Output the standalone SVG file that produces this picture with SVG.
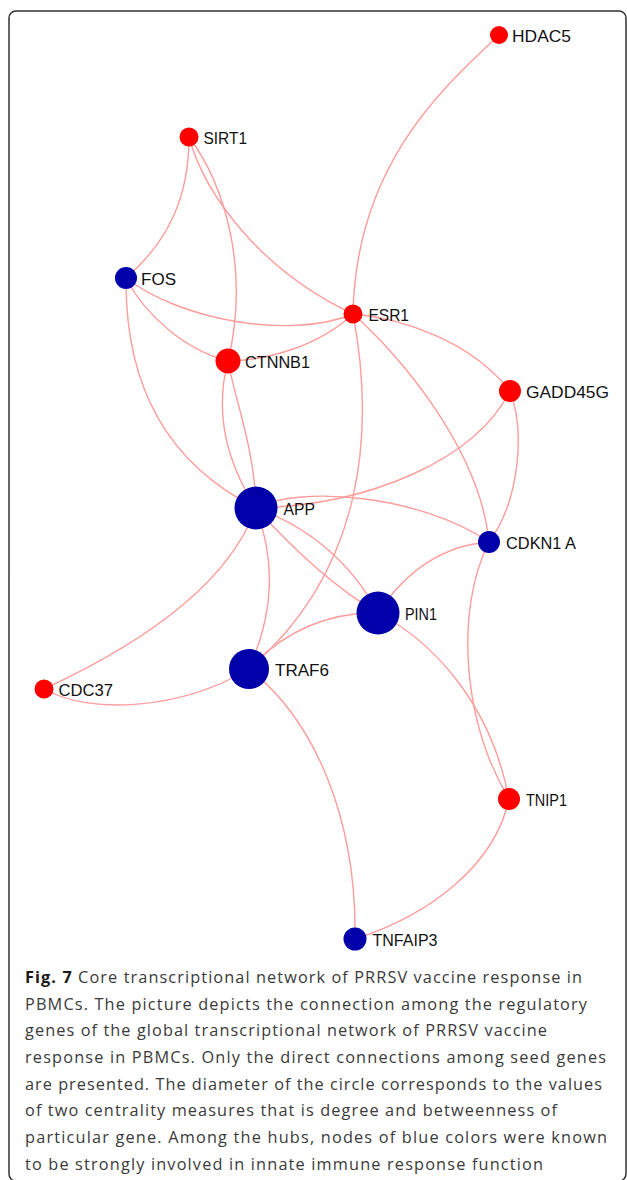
<svg xmlns="http://www.w3.org/2000/svg" width="627" height="1180" viewBox="0 0 627 1180">
<style>
.edge{fill:none;stroke:#ff9c9c;stroke-width:1.4}
.red{fill:#ff0000}
.blue{fill:#0000aa}
.lbl{font-family:"Liberation Sans",Arial,sans-serif;font-size:17px;fill:#111}
.cap{font-family:"Open Sans","Noto Sans",sans-serif;font-size:16.3px;fill:#3a3a3a}
.capb{font-weight:bold;fill:#1a1a1a}
</style>
<rect x="9" y="11" width="617" height="1170" rx="7" fill="#fff" stroke="#333" stroke-width="1.5"/>
<g id="connectors">
<path class="edge" d="M499,35 C450,82 356,160 353,314"/>
<path class="edge" d="M189,137 C189,195 170,240 126,278"/>
<path class="edge" d="M189,137 C225,185 250,270 228,361"/>
<path class="edge" d="M189,137 C205,195 260,270 353,314"/>
<path class="edge" d="M126,278 C180,320 290,340 353,314"/>
<path class="edge" d="M126,278 C145,315 185,350 228,361"/>
<path class="edge" d="M126,278 C125,390 170,465 256,508"/>
<path class="edge" d="M228,361 C270,360 320,345 353,314"/>
<path class="edge" d="M228,361 C215,410 225,460 256,508"/>
<path class="edge" d="M228,361 C235,400 255,450 256,508"/>
<path class="edge" d="M353,314 C375,430 365,570 249,669"/>
<path class="edge" d="M353,314 C400,318 470,340 510,391"/>
<path class="edge" d="M353,314 C400,355 480,450 489,542"/>
<path class="edge" d="M510,391 C475,460 370,505 256,508"/>
<path class="edge" d="M510,391 C525,430 520,500 489,542"/>
<path class="edge" d="M256,508 C300,485 420,495 489,542"/>
<path class="edge" d="M256,508 C285,540 330,585 378,613"/>
<path class="edge" d="M256,508 C305,525 350,560 378,613"/>
<path class="edge" d="M489,542 C450,545 410,565 378,613"/>
<path class="edge" d="M489,542 C455,610 462,720 509,799"/>
<path class="edge" d="M378,613 C430,640 490,700 509,799"/>
<path class="edge" d="M378,613 C330,612 285,630 249,669"/>
<path class="edge" d="M256,508 C275,560 275,610 249,669"/>
<path class="edge" d="M256,508 C230,580 150,640 44,689"/>
<path class="edge" d="M44,689 C90,715 180,710 249,669"/>
<path class="edge" d="M249,669 C315,720 357,820 355,939"/>
<path class="edge" d="M509,799 C495,865 430,915 355,939"/>
</g>
<g id="node-HDAC5"><circle class="red" cx="499" cy="35" r="9"/><text class="lbl" x="512" y="41.5" textLength="59" lengthAdjust="spacingAndGlyphs">HDAC5</text></g>
<g id="node-SIRT1"><circle class="red" cx="189" cy="137" r="9.5"/><text class="lbl" x="203.5" y="143.5" textLength="43.5" lengthAdjust="spacingAndGlyphs">SIRT1</text></g>
<g id="node-FOS"><circle class="blue" cx="126" cy="278" r="11"/><text class="lbl" x="141" y="284.5" textLength="35" lengthAdjust="spacingAndGlyphs">FOS</text></g>
<g id="node-ESR1"><circle class="red" cx="353" cy="314" r="9.5"/><text class="lbl" x="368.5" y="320.5" textLength="40.5" lengthAdjust="spacingAndGlyphs">ESR1</text></g>
<g id="node-CTNNB1"><circle class="red" cx="228" cy="361" r="12.5"/><text class="lbl" x="245" y="367.5" textLength="65" lengthAdjust="spacingAndGlyphs">CTNNB1</text></g>
<g id="node-GADD45G"><circle class="red" cx="510" cy="391" r="11"/><text class="lbl" x="526" y="397.5" textLength="83" lengthAdjust="spacingAndGlyphs">GADD45G</text></g>
<g id="node-APP"><circle class="blue" cx="256" cy="508" r="21.5"/><text class="lbl" x="283.5" y="514.5" textLength="31.5" lengthAdjust="spacingAndGlyphs">APP</text></g>
<g id="node-CDKN1A"><circle class="blue" cx="489" cy="542" r="11"/><text class="lbl" x="506" y="548.5" textLength="70" lengthAdjust="spacingAndGlyphs">CDKN1 A</text></g>
<g id="node-PIN1"><circle class="blue" cx="378" cy="613" r="21.5"/><text class="lbl" x="405" y="619.5" textLength="32" lengthAdjust="spacingAndGlyphs">PIN1</text></g>
<g id="node-TRAF6"><circle class="blue" cx="249" cy="669" r="20"/><text class="lbl" x="275" y="675.5" textLength="54" lengthAdjust="spacingAndGlyphs">TRAF6</text></g>
<g id="node-CDC37"><circle class="red" cx="44" cy="689" r="9.5"/><text class="lbl" x="58.5" y="695.5" textLength="54.5" lengthAdjust="spacingAndGlyphs">CDC37</text></g>
<g id="node-TNIP1"><circle class="red" cx="509" cy="799" r="11"/><text class="lbl" x="526" y="805.5" textLength="41" lengthAdjust="spacingAndGlyphs">TNIP1</text></g>
<g id="node-TNFAIP3"><circle class="blue" cx="355" cy="939" r="11.5"/><text class="lbl" x="372.5" y="945.5" textLength="65" lengthAdjust="spacingAndGlyphs">TNFAIP3</text></g>
<g id="caption">
<text class="cap" x="25" y="983" textLength="557" lengthAdjust="spacing"><tspan class="capb">Fig. 7</tspan> Core transcriptional network of PRRSV vaccine response in</text>
<text class="cap" x="25" y="1009.7" textLength="562" lengthAdjust="spacing">PBMCs. The picture depicts the connection among the regulatory</text>
<text class="cap" x="25" y="1036.3" textLength="522" lengthAdjust="spacing">genes of the global transcriptional network of PRRSV vaccine</text>
<text class="cap" x="25" y="1063" textLength="581" lengthAdjust="spacing">response in PBMCs. Only the direct connections among seed genes</text>
<text class="cap" x="25" y="1089.7" textLength="577" lengthAdjust="spacing">are presented. The diameter of the circle corresponds to the values</text>
<text class="cap" x="25" y="1116.3" textLength="532" lengthAdjust="spacing">of two centrality measures that is degree and betweenness of</text>
<text class="cap" x="25" y="1143" textLength="582" lengthAdjust="spacing">particular gene. Among the hubs, nodes of blue colors were known</text>
<text class="cap" x="25" y="1169.7" textLength="518" lengthAdjust="spacing">to be strongly involved in innate immune response function</text>
</g>
</svg>
